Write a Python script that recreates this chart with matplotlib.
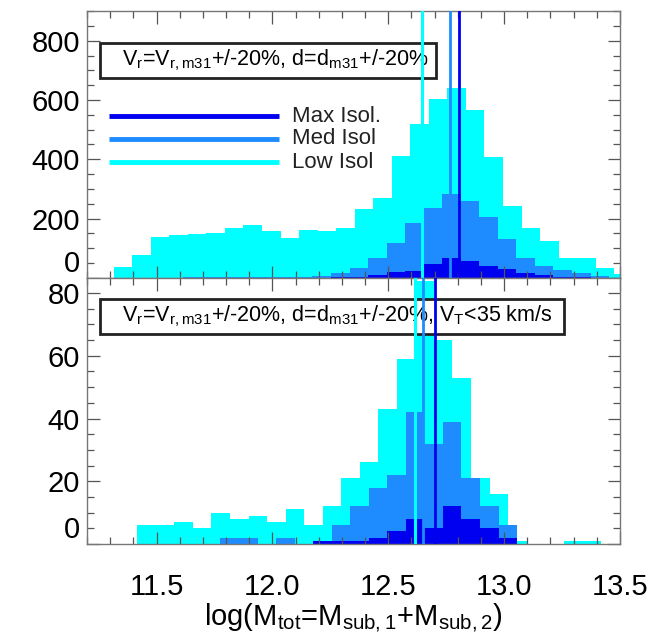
import numpy as np
import matplotlib
matplotlib.use("Agg")
import matplotlib.pyplot as plt
from matplotlib.ticker import MultipleLocator
from matplotlib.patches import Rectangle

plt.rcParams['font.family'] = ['Liberation Sans', 'DejaVu Sans']
plt.rcParams['mathtext.default'] = 'regular'

BIN = 0.08

# ---------------- top panel data ----------------
top_low_start = 11.315
top_low = [37, 79, 139, 144, 149, 153, 170, 179, 159, 136, 161, 159, 170, 232, 270,
           412, 519, 604, 641, 567, 407, 243, 170, 125, 69, 69, 35, 12]
top_med_start = 11.453
top_med = [1, 1, 2, 2, 2, 2, 3, 3, 4, 6, 17, 34, 68, 119, 187, 237, 283, 260, 204,
           131, 69, 40, 26, 18, 7, 1]
top_max_start = 12.253
top_max = [2, 4, 9, 20, 22, 46, 66, 57, 40, 30, 18, 10, 5, 2, 1, 1]
top_lines = {'Low': 12.644, 'Med': 12.767, 'Max': 12.806}

# ---------------- bottom panel data ----------------
bot_low_start = 11.417
bot_low = [6, 6, 7, 5, 10, 8, 9, 7, 11, 6, 12, 21, 26, 43, 59, 84, 65, 53, 21, 16,
           1, 0, 0, 1, 1]
bot_med_start = 11.776
bot_med = [2, 2, 0, 2, 0, 1, 6, 12, 18, 22, 42, 32, 39, 21, 12, 6]
bot_max_start = 12.176
bot_max = [1, 1, 1, 2, 4, 8, 5, 12, 8, 5, 2]
bot_lines = {'Low': 12.616, 'Med': 12.651, 'Max': 12.702}

C_LOW = '#00FFFF'
C_MED = '#1E8CFF'
C_MAX = '#0000F0'

legend_labels = ['Max Isol.', 'Med Isol', 'Low Isol']
box_top = r'V$_r$=V$_{r,m31}$+/-20%, d=d$_{m31}$+/-20%'
box_bot = r'V$_r$=V$_{r,m31}$+/-20%, d=d$_{m31}$+/-20%, V$_T$<35 km/s'
xlabel = r'log(M$_{tot}$=M$_{sub,1}$+M$_{sub,2}$)'

W, H = 664, 643
fig = plt.figure(figsize=(W / 100, H / 100), dpi=100)
L, R = 87 / W, 620 / W
ax1 = fig.add_axes([L, 1 - 278 / H, R - L, (278 - 11) / H])
ax2 = fig.add_axes([L, 1 - 544 / H, R - L, (544 - 278) / H])


def stairs(ax, start, vals, color):
    vals = np.asarray(vals, float)
    edges = start + BIN * np.arange(len(vals) + 1)
    ax.stairs(vals, edges, fill=True, color=color, lw=0)


for ax, data, lines, ylim, ymaj, ymin in [
        (ax1, [(top_low_start, top_low, C_LOW), (top_med_start, top_med, C_MED),
               (top_max_start, top_max, C_MAX)], top_lines, (0, 900), 200, 50),
        (ax2, [(bot_low_start, bot_low, C_LOW), (bot_med_start, bot_med, C_MED),
               (bot_max_start, bot_max, C_MAX)], bot_lines, (0, 84.8), 20, 5)]:
    for s, v, c in data:
        stairs(ax, s, v, c)
    ax.axvline(lines['Low'], color=C_LOW, lw=2.2, zorder=5)
    ax.axvline(lines['Med'], color=C_MED, lw=2.0, zorder=5)
    ax.axvline(lines['Max'], color=C_MAX, lw=2.0, zorder=5)
    ax.set_xlim(11.2, 13.5)
    ax.set_ylim(*ylim)
    ax.xaxis.set_major_locator(MultipleLocator(0.5))
    ax.xaxis.set_minor_locator(MultipleLocator(0.1))
    ax.yaxis.set_major_locator(MultipleLocator(ymaj))
    ax.yaxis.set_minor_locator(MultipleLocator(ymin))
    ax.tick_params(which='both', direction='in', top=True, right=True,
                   color='#555555', labelsize=21, width=0.9, pad=5)
    ax.tick_params(which='major', length=9)
    ax.tick_params(which='minor', length=5)
    for sp in ax.spines.values():
        sp.set_color('#777777')
        sp.set_linewidth(1.0)

ax1.tick_params(labelbottom=False)
ax2.set_xticks([11.5, 12.0, 12.5, 13.0, 13.5])
ax2.set_xticklabels(['11.5', '12.0', '12.5', '13.0', '13.5'])
ax2.tick_params(axis='x', pad=21)
ax2.set_xlabel(xlabel, fontsize=21, labelpad=0)
ax1.set_yticks([0, 200, 400, 600, 800])
ax2.set_yticks([0, 20, 40, 60, 80])
fig.canvas.draw()
for ax in (ax1, ax2):
    lab = ax.get_yticklabels()
    lab[0].set_va('bottom')

# text boxes
ax1.add_patch(Rectangle((0.024, 1 - 67 / 267), 0.631, 35 / 267, transform=ax1.transAxes,
                        fill=True, facecolor='white', edgecolor='#222222', lw=2, zorder=4))
ax1.text(0.065, 1 - 49.5 / 267, box_top, transform=ax1.transAxes, fontsize=15.5,
         va='center', ha='left', zorder=4.5)
ax2.add_patch(Rectangle((0.024, 1 - 56 / 266), 0.871, 35 / 266, transform=ax2.transAxes,
                        fill=True, facecolor='white', edgecolor='#222222', lw=2, zorder=4))
ax2.text(0.065, 1 - 38.5 / 266, box_bot, transform=ax2.transAxes, fontsize=15.5,
         va='center', ha='left', zorder=4.5)

# legend
for lab, c, yp in zip(legend_labels, [C_MAX, C_MED, C_LOW], [116, 139, 162]):
    yf = 1 - (yp - 11) / 267
    ax1.plot([(109 - 87) / 533, (279 - 87) / 533], [yf, yf], transform=ax1.transAxes,
             color=c, lw=3.5, solid_capstyle='butt', zorder=6)
    ax1.text((292 - 87) / 533, yf, lab, transform=ax1.transAxes, fontsize=16,
             va='center', ha='left', color='#222222', zorder=6)

fig.savefig('out.png', dpi=100)
